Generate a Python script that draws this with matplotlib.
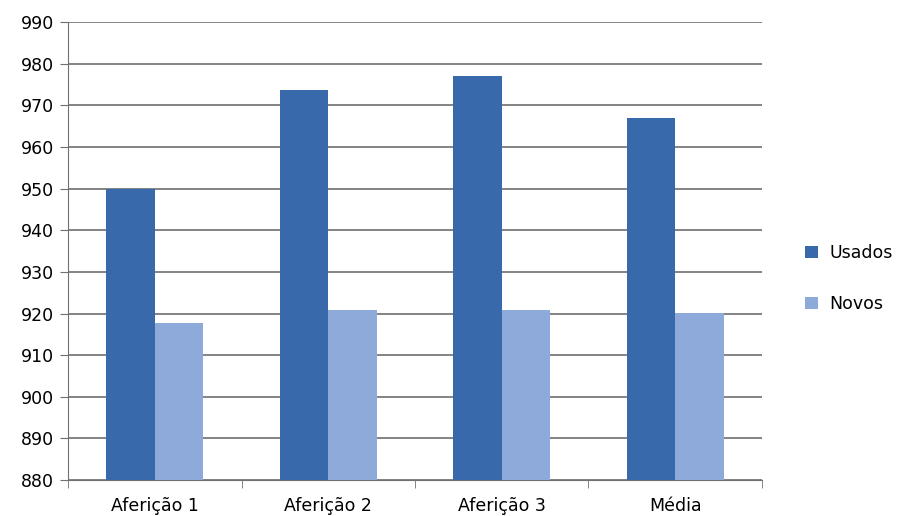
import matplotlib.pyplot as plt
import numpy as np

categories = ['Aferição 1', 'Aferição 2', 'Aferição 3', 'Média']
usados = [950.0, 973.6, 977.1, 966.9]
novos = [917.7, 920.9, 920.9, 920.1]

plt.rcParams['font.family'] = ['DejaVu Sans']

fig = plt.figure(figsize=(9.01, 5.16), dpi=100)
ax = fig.add_axes([0.0755, 0.0698, 0.7702, 0.8872])

x = np.arange(len(categories))
w = 0.28
ax.bar(x - w / 2, usados, w, color='#3769AB', label='Usados', zorder=3)
ax.bar(x + w / 2, novos, w, color='#8DAADB', label='Novos', zorder=3)

ax.set_ylim(880, 990)
ax.set_yticks(np.arange(880, 991, 10))
ax.set_xlim(-0.5, len(categories) - 0.5)
ax.set_xticks(x)
ax.set_xticklabels(categories, fontsize=12.5)
ax.set_xticks(np.arange(-0.5, len(categories), 1), minor=True)
ax.tick_params(axis='x', which='major', length=0, pad=12)
ax.tick_params(axis='x', which='minor', length=6, color='#707070', direction='out')
ax.tick_params(axis='y', labelsize=12.5, length=6, color='#707070', direction='out', pad=4)

ax.grid(axis='y', color='#6e6e6e', linewidth=1.2, zorder=0)
for s in ['top', 'right']:
    ax.spines[s].set_visible(False)
for s in ['left', 'bottom']:
    ax.spines[s].set_color('#707070')

ax.legend(loc='center left', bbox_to_anchor=(1.04, 0.44), frameon=False,
          fontsize=12.5, handlelength=0.7, handleheight=0.7,
          handletextpad=0.7, labelspacing=1.9)

plt.savefig('out.png', dpi=100)
